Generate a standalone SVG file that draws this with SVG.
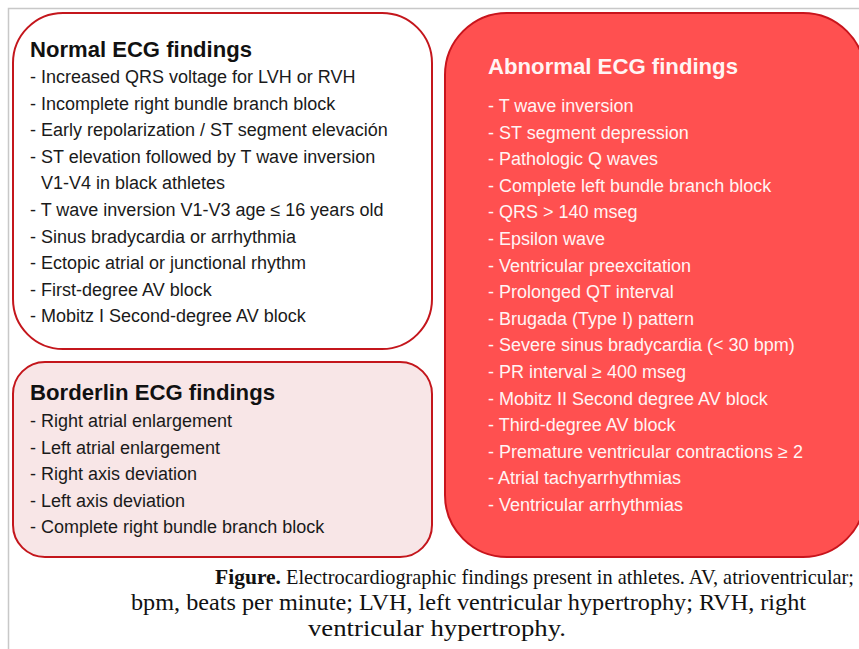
<svg xmlns="http://www.w3.org/2000/svg" width="859" height="649" viewBox="0 0 859 649">
<style>
.box{stroke:#c4161c;stroke-width:2}
.ttl{font-family:"Liberation Sans",Arial,sans-serif;font-weight:bold;font-size:22px;fill:#111}
.itm{font-family:"Liberation Sans",Arial,sans-serif;font-size:18px;fill:#1a1a1a}
.ab .ttl,.ab .itm{fill:#fff4f4}
.cap{font-family:"Liberation Serif","Times New Roman",serif;font-size:23px;fill:#111}
.cap1{font-size:21px}
</style>
<rect width="859" height="649" fill="#ffffff"/>
<g id="frame"><path d="M8.5 649 V8.5 H859" fill="none" stroke="#c8c8c8" stroke-width="1.5"/></g>
<g id="connectors"></g>
<g id="normal">
<rect class="box" x="13" y="13" width="419" height="336" rx="50" ry="50" fill="#ffffff"/>
<text class="ttl" x="30" y="57" textLength="222" lengthAdjust="spacingAndGlyphs">Normal ECG findings</text>
<text class="itm" x="30" y="83">- Increased QRS voltage for LVH or RVH</text>
<text class="itm" x="30" y="109.6">- Incomplete right bundle branch block</text>
<text class="itm" x="30" y="136.2">- Early repolarization / ST segment elevación</text>
<text class="itm" x="30" y="162.8">- ST elevation followed by T wave inversion</text>
<text class="itm" x="41" y="189.4">V1-V4 in black athletes</text>
<text class="itm" x="30" y="216">- T wave inversion V1-V3 age ≤ 16 years old</text>
<text class="itm" x="30" y="242.6">- Sinus bradycardia or arrhythmia</text>
<text class="itm" x="30" y="269.2">- Ectopic atrial or junctional rhythm</text>
<text class="itm" x="30" y="295.8">- First-degree AV block</text>
<text class="itm" x="30" y="322.4">- Mobitz I Second-degree AV block</text>
</g>
<g id="borderline">
<rect class="box" x="13" y="362" width="419" height="195" rx="32" ry="32" fill="#f8e6e7"/>
<text class="ttl" x="30" y="400" textLength="245" lengthAdjust="spacingAndGlyphs">Borderlin ECG findings</text>
<text class="itm" x="30" y="427">- Right atrial enlargement</text>
<text class="itm" x="30" y="453.6">- Left atrial enlargement</text>
<text class="itm" x="30" y="480.2">- Right axis deviation</text>
<text class="itm" x="30" y="506.8">- Left axis deviation</text>
<text class="itm" x="30" y="533.4">- Complete right bundle branch block</text>
</g>
<g id="abnormal" class="ab">
<rect x="445" y="13" width="420" height="544" rx="62" ry="62" fill="#ff5050" stroke="#c8141c" stroke-width="2"/>
<text class="ttl" x="488" y="74" textLength="250" lengthAdjust="spacingAndGlyphs">Abnormal ECG findings</text>
<text class="itm" x="488" y="112">- T wave inversion</text>
<text class="itm" x="488" y="138.6">- ST segment depression</text>
<text class="itm" x="488" y="165.2">- Pathologic Q waves</text>
<text class="itm" x="488" y="191.8">- Complete left bundle branch block</text>
<text class="itm" x="488" y="218.4">- QRS &gt; 140 mseg</text>
<text class="itm" x="488" y="245">- Epsilon wave</text>
<text class="itm" x="488" y="271.6">- Ventricular preexcitation</text>
<text class="itm" x="488" y="298.2">- Prolonged QT interval</text>
<text class="itm" x="488" y="324.8">- Brugada (Type I) pattern</text>
<text class="itm" x="488" y="351.4">- Severe sinus bradycardia (&lt; 30 bpm)</text>
<text class="itm" x="488" y="378">- PR interval ≥ 400 mseg</text>
<text class="itm" x="488" y="404.6">- Mobitz II Second degree AV block</text>
<text class="itm" x="488" y="431.2">- Third-degree AV block</text>
<text class="itm" x="488" y="457.8">- Premature ventricular contractions ≥ 2</text>
<text class="itm" x="488" y="484.4">- Atrial tachyarrhythmias</text>
<text class="itm" x="488" y="511">- Ventricular arrhythmias</text>
</g>
<g id="caption">
<text class="cap cap1" x="215" y="584" font-weight="bold" textLength="66" lengthAdjust="spacingAndGlyphs">Figure.</text>
<text class="cap cap1" x="286" y="584" textLength="568" lengthAdjust="spacingAndGlyphs">Electrocardiographic findings present in athletes. AV, atrioventricular;</text>
<text class="cap" x="131" y="610" textLength="675" lengthAdjust="spacingAndGlyphs">bpm, beats per minute; LVH, left ventricular hypertrophy; RVH, right</text>
<text class="cap" x="308" y="636" textLength="258" lengthAdjust="spacingAndGlyphs">ventricular hypertrophy.</text>
</g>
</svg>
